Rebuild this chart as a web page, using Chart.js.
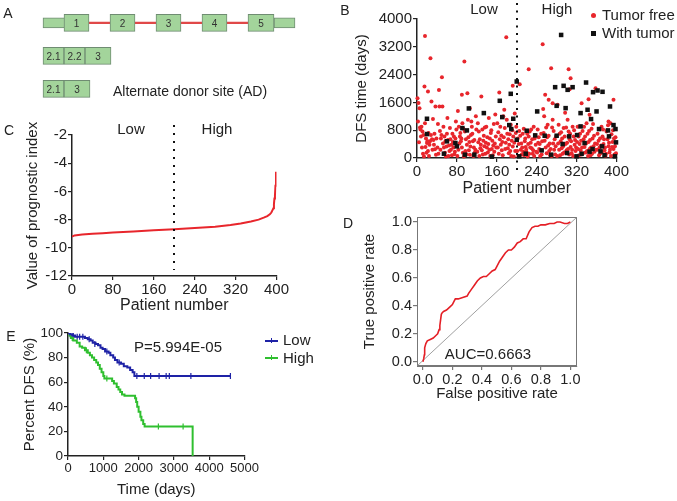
<!DOCTYPE html>
<html lang="en">
<head>
<meta charset="UTF-8">
<title>Prognostic index panels</title>
<script src="https://cdn.jsdelivr.net/npm/chart.js"></script>
<style>
  body { margin: 0; background: #fff; font-family: 'Liberation Sans', Arial, sans-serif; color: #222; }
  #fig { position: relative; width: 677px; height: 501px; overflow: hidden; }
  #fig canvas { position: absolute; }
  .lbl { position: absolute; white-space: nowrap; transform: translate(-50%, -50%); font-size: 15px; line-height: 18px; }
  .lft { transform: translate(0, -50%); }
  .panel { font-size: 14px; }
  .mark { position: absolute; }
</style>
</head>
<body>
<div id="fig">
  <canvas id="chartA" width="300" height="110" style="left:0;top:0"></canvas>
  <canvas id="chartB" width="300" height="200" style="left:330px;top:0"></canvas>
  <canvas id="chartC" width="290" height="206" style="left:0;top:110px"></canvas>
  <canvas id="chartD" width="245" height="210" style="left:340px;top:195px"></canvas>
  <canvas id="chartE" width="260" height="180" style="left:0;top:320px"></canvas>

  <div class="lbl panel" style="left:8px;top:13px">A</div>
  <div class="lbl lft" style="left:113px;top:91px;font-size:14px">Alternate donor site (AD)</div>

  <div class="lbl panel" style="left:345px;top:10px">B</div>
  <div class="lbl" style="left:484px;top:9px">Low</div>
  <div class="lbl" style="left:557px;top:9px">High</div>
  <div class="mark" style="left:591px;top:13px;width:5px;height:5px;border-radius:50%;background:#e8262c"></div>
  <div class="lbl lft" style="left:602px;top:15px">Tumor free</div>
  <div class="mark" style="left:591px;top:31px;width:5px;height:5px;background:#111"></div>
  <div class="lbl lft" style="left:602px;top:33px">With tumor</div>

  <div class="lbl panel" style="left:9px;top:130px">C</div>
  <div class="lbl" style="left:131px;top:129px">Low</div>
  <div class="lbl" style="left:217px;top:129px">High</div>

  <div class="lbl panel" style="left:348px;top:223px">D</div>
  <div class="lbl" style="left:488px;top:354px">AUC=0.6663</div>

  <div class="lbl panel" style="left:11px;top:336px">E</div>
  <div class="lbl" style="left:178px;top:347px">P=5.994E-05</div>
  <div class="mark" style="left:265px;top:340px;width:13px;height:2px;background:#1e22a6"></div>
  <div class="mark" style="left:271px;top:338px;width:1px;height:5px;background:#1e22a6"></div>
  <div class="lbl lft" style="left:283px;top:340px">Low</div>
  <div class="mark" style="left:265px;top:357px;width:13px;height:2px;background:#2fbf2f"></div>
  <div class="mark" style="left:271px;top:355px;width:1px;height:5px;background:#2fbf2f"></div>
  <div class="lbl lft" style="left:283px;top:358px">High</div>
</div>

<script>
  // ---- A: transcript schematic (spans along the gene, diagram units) ----
  const rows = ['full', 'skip', 'donor'];
  const intronSpan = [65, 274];
  const utrSpans = [[43, 65], [274, 295]];
  const exonSpans = [[64, 89], [110, 135], [156, 181], [202, 227], [248, 274]];
  const exonNames = ['1', '2', '3', '4', '5'];
  const skipSpans = [[43, 64], [64, 85], [85, 111]];
  const skipNames = ['2.1', '2.2', '3'];
  const donorSpans = [[43, 64], [64, 90]];
  const donorNames = ['2.1', '3'];

  // ---- B: DFS time per patient, [patient number, days] ----
  const tumorFree = [
    [1,1720],[3,1580],[5,1435],[2,1050],[6,880],[8,620],[4,450],[10,300],[12,120],[14,40],[7,820],[9,900],[16,1000],[18,560],[20,430],[22,200],[24,60],[26,480],[28,660],[30,540],[32,1120],[34,380],[36,250],[38,90],[16,3512],[27,2871],[15,2060],[22,1915],[29,1627],[37,1480],[11,760],[13,660],[17,320],[19,150],[21,480],[23,720],[25,380],[31,240],[33,520],[35,700],[39,560],
    [44,1960],[50,2325],[45,1480],[51,1480],[42,980],[46,780],[48,560],[52,420],[54,300],[56,150],[58,40],[60,700],[62,520],[64,360],[66,860],[68,240],[70,80],[72,460],[74,620],[76,180],[78,1050],[41,300],[43,120],[47,240],[49,660],[53,900],[55,620],[57,480],[59,330],[61,1150],[63,60],[65,200],[67,540],[69,380],[71,700],[73,300],[75,110],[77,560],[79,820],
    [90,1820],[95,2775],[101,1866],[106,1435],[82,1350],[84,900],[86,620],[88,480],[90,300],[92,150],[94,40],[96,760],[98,540],[100,380],[102,1100],[104,220],[106,90],[108,660],[110,900],[112,480],[114,300],[116,160],[118,1200],[81,60],[83,240],[85,420],[87,720],[89,560],[91,1000],[93,840],[97,200],[99,110],[103,600],[105,460],[107,330],[109,1050],[111,700],[113,60],[115,520],[117,240],[119,820],
    [129,1770],[122,1000],[124,760],[126,540],[128,380],[130,220],[132,100],[134,640],[136,880],[138,440],[140,300],[142,160],[144,1150],[146,560],[148,720],[150,260],[152,80],[154,980],[156,420],[158,620],[121,180],[123,450],[125,60],[127,280],[131,820],[133,500],[135,340],[137,120],[139,900],[141,600],[143,400],[145,240],[147,60],[149,800],[151,500],[153,360],[155,180],[157,1250],[159,300],
    [165,1885],[175,1388],[179,3474],[192,2077],[161,1000],[163,740],[166,540],[168,380],[170,220],[172,80],[174,600],[176,860],[178,440],[180,1100],[182,280],[184,140],[186,680],[188,960],[190,500],[192,330],[194,40],[196,1280],[198,720],[162,300],[164,120],[167,900],[169,650],[171,460],[173,1200],[177,260],[181,700],[183,540],[185,380],[187,200],[189,60],[191,800],[193,620],[195,440],[197,200],[199,900],
    [206,2125],[224,2555],[202,560],[204,400],[208,240],[210,100],[212,700],[214,840],[216,480],[218,320],[220,160],[222,40],[224,620],[226,760],[228,440],[230,280],[232,120],[234,900],[236,560],[238,380],[201,200],[203,60],[205,780],[207,640],[209,420],[211,300],[213,180],[215,80],[217,560],[219,240],[221,700],[223,400],[225,120],[227,300],[229,820],[231,540],[233,220],[235,60],[237,660],[239,180],
    [252,3273],[257,1818],[253,1407],[264,1675],[269,2584],[272,1579],[242,820],[244,600],[246,400],[248,220],[250,100],[254,720],[256,500],[258,300],[260,140],[262,960],[264,640],[266,420],[268,260],[270,60],[272,1100],[274,780],[276,540],[278,340],[241,160],[243,440],[245,260],[247,60],[249,700],[251,480],[255,1200],[259,880],[261,600],[263,360],[265,200],[267,80],[271,880],[273,420],[275,240],[277,100],[279,620],
    [282,1531],[304,2555],[308,2297],[306,1981],[284,960],[286,700],[288,480],[290,280],[292,120],[294,860],[296,620],[298,400],[300,220],[302,1100],[304,760],[306,540],[308,320],[310,140],[312,900],[314,620],[316,380],[318,200],[281,60],[283,420],[285,240],[287,80],[289,740],[291,560],[293,340],[295,160],[297,1300],[299,880],[301,440],[303,260],[305,100],[307,700],[309,480],[311,240],[313,60],[315,800],[317,520],[319,300],
    [330,1579],[344,1694],[346,1244],[358,2010],[322,900],[324,620],[326,400],[328,220],[330,100],[332,780],[334,540],[336,320],[338,160],[340,1000],[342,700],[344,460],[346,260],[348,80],[350,840],[352,560],[354,340],[356,180],[321,460],[323,260],[325,80],[327,700],[329,500],[331,300],[333,140],[335,900],[337,620],[339,420],[341,200],[343,60],[345,780],[347,520],[349,300],[351,120],[353,980],[355,640],[357,420],[359,240],
    [394,1675],[384,1053],[381,794],[362,700],[364,500],[366,300],[368,140],[370,900],[372,620],[374,400],[376,220],[378,60],[380,760],[382,540],[384,340],[386,160],[388,1000],[390,680],[392,460],[394,260],[396,100],[398,600],[361,400],[363,240],[365,80],[367,560],[369,360],[371,180],[373,820],[375,540],[377,300],[379,120],[383,940],[385,440],[387,240],[389,60],[391,320],[393,800],[395,560],[397,340],[399,140]
  ];
  const withTumor = [
    [289,3541],[339,2172],[277,2038],[294,2077],[312,2038],[302,1962],[353,1895],[372,1905],[362,1943],[166,1646],[188,1847],[200,2201],[241,1340],[298,1435],[280,1502],[360,1340],[342,1388],[328,1292],[387,1483],[328,909],[349,1120],[171,1177],[193,1129],[185,947],[189,833],[104,1426],[134,1292],[20,1129],[20,689],[91,861],[100,794],[220,785],[237,650],[256,641],[280,641],[305,622],[321,660],[336,431],[365,833],[383,794],[394,947],[398,833],[385,622],[399,450],[371,335],[352,258],[368,191],[346,182],[292,402],[301,144],[269,96],[205,48],[218,124],[115,96],[96,96],[54,124],[77,431],[80,335],[200,526],[320,48],[397,48],[60,480],[150,40],[250,220],[330,120],[376,80]
  ];
  const patientTicks = [0, 80, 160, 240, 320, 400];
  const splitPatient = 200;

  // ---- C: sorted prognostic index ----
  const piPatient = [0, 5, 20, 40, 60, 80, 120, 160, 200, 240, 280, 310, 330, 350, 365, 375, 382, 387, 390, 392, 394, 395, 396, 397, 398, 399];
  const piValue = [-9.2, -9.12, -9.06, -9.0, -8.96, -8.92, -8.84, -8.76, -8.68, -8.6, -8.5, -8.38, -8.28, -8.14, -8.0, -7.86, -7.75, -7.62, -7.5, -7.35, -7.2, -6.9, -6.5, -6.3, -5.6, -4.6];

  // ---- D: ROC curve ----
  const fpr = [0, 0.005, 0.01, 0.012, 0.02, 0.03, 0.05, 0.07, 0.09, 0.1, 0.11, 0.115, 0.12, 0.125, 0.13, 0.14, 0.16, 0.18, 0.2, 0.21, 0.22, 0.24, 0.27, 0.3, 0.31, 0.33, 0.35, 0.37, 0.39, 0.41, 0.43, 0.45, 0.47, 0.49, 0.5, 0.52, 0.54, 0.56, 0.58, 0.6, 0.62, 0.64, 0.66, 0.68, 0.7, 0.72, 0.74, 0.76, 0.78, 0.8, 0.83, 0.86, 0.89, 0.91, 0.93, 0.96, 0.98, 1.0];
  const tpr = [0, 0.02, 0.05, 0.1, 0.13, 0.15, 0.16, 0.17, 0.19, 0.2, 0.23, 0.26, 0.3, 0.34, 0.35, 0.36, 0.37, 0.39, 0.41, 0.43, 0.45, 0.45, 0.46, 0.47, 0.49, 0.52, 0.55, 0.58, 0.6, 0.61, 0.61, 0.63, 0.65, 0.66, 0.68, 0.72, 0.75, 0.78, 0.8, 0.8, 0.82, 0.85, 0.86, 0.88, 0.88, 0.93, 0.96, 0.97, 0.97, 0.98, 0.98, 0.99, 0.99, 1.0, 1.0, 0.99, 0.99, 1.0];
  const rateTicks = [0, 0.2, 0.4, 0.6, 0.8, 1.0];
  const rocX = [-0.04, 1.045];
  const rocY = [-0.03, 1.036];

  // ---- E: Kaplan-Meier DFS ----
  const lowDays = [0, 50, 120, 200, 480, 560, 640, 700, 780, 850, 920, 980, 1050, 1150, 1200, 1280, 1330, 1400, 1500, 1580, 1680, 1760, 1830, 1880, 4600];
  const lowPct = [100, 99, 98, 97, 96, 95, 94, 92, 91, 90, 88, 87, 85, 84, 82, 80, 78, 76, 75, 73, 72, 70, 68, 65, 65];
  const highDays = [0, 40, 80, 150, 250, 330, 400, 480, 560, 620, 680, 740, 800, 850, 900, 950, 1000, 1030, 1250, 1300, 1380, 1430, 1480, 1530, 1600, 1900, 1930, 1960, 2000, 2050, 2080, 2130, 2170, 3530, 3530];
  const highPct = [100, 98, 96, 94, 92, 89, 88, 86, 84, 82, 80, 78, 76, 74, 71, 68, 65, 63, 61, 59, 56, 54, 52, 50, 49, 47, 44, 40, 36, 32, 29, 26, 24, 24, 0];
  const lowCensorDays = [60, 150, 260, 330, 420, 600, 760, 1100, 1450, 1950, 2160, 2340, 2580, 2780, 2870, 3480, 4600];
  const lowCensorPct = [99, 98, 97, 97, 97, 95, 91, 85, 76, 65, 65, 65, 65, 65, 65, 65, 65];
  const highCensorDays = [120, 520, 1100, 2560, 3260];
  const highCensorPct = [96, 86, 63, 24, 24];

  Chart.defaults.font.family = "'Liberation Sans', Arial, sans-serif";
  Chart.defaults.color = '#222';
  Chart.defaults.animation = false;
  Chart.defaults.responsive = false;
  Chart.defaults.plugins.legend.display = false;
  Chart.defaults.plugins.tooltip.enabled = false;

  const pts = (xs, ys) => xs.map((x, i) => ({ x: x, y: ys[i] }));
  const pairs = list => list.map(p => ({ x: p[0], y: p[1] }));

  function axis(o) {
    return {
      type: 'linear', min: o.min, max: o.max,
      ticks: {
        stepSize: o.step, font: { size: o.tick || 15 }, padding: 1, color: '#222', autoSkip: false, maxRotation: 0,
        callback: o.fmt || (v => String(v))
      },
      grid: { drawOnChartArea: false, drawTicks: true, tickLength: 4, color: o.color || '#222', lineWidth: 1.2 },
      border: { color: o.color || '#222', width: o.bw || 1.5 },
      title: { display: true, text: o.title, font: { size: o.titleSize || 15 }, padding: o.pad, color: '#222' },
      afterBuildTicks: o.ticksAt ? s => { s.ticks = o.ticksAt.map(v => ({ value: v })); } : undefined,
      afterFit: s => { if (s.isHorizontal()) s.height = o.size; else s.width = o.size; }
    };
  }

  function divider(value, above, below, gap) {
    return {
      id: 'divider',
      afterDatasetsDraw(chart) {
        const { ctx, chartArea: a, scales: { x } } = chart;
        const px = Math.round(x.getPixelForValue(value));
        ctx.save();
        ctx.strokeStyle = '#111';
        ctx.lineWidth = 2;
        ctx.setLineDash([2, gap]);
        ctx.beginPath();
        ctx.moveTo(px, a.top - above);
        ctx.lineTo(px, a.bottom + below);
        ctx.stroke();
        ctx.restore();
      }
    };
  }

  // A
  const boxLabels = {
    id: 'boxLabels',
    afterDatasetsDraw(chart) {
      const ctx = chart.ctx;
      const names = exonNames.concat(skipNames, donorNames);
      ctx.save();
      ctx.font = "10px 'Liberation Sans', Arial, sans-serif";
      ctx.fillStyle = '#333';
      ctx.textAlign = 'center';
      ctx.textBaseline = 'middle';
      chart.getDatasetMeta(0).data.forEach((bar, i) => {
        ctx.fillText(names[i], (bar.x + bar.base) / 2, bar.y + 1);
      });
      ctx.restore();
    }
  };
  const boxStyle = { backgroundColor: '#a3d49b', borderColor: '#6f8c72', borderWidth: 1, borderSkipped: false, grouped: false };
  new Chart(document.getElementById('chartA'), {
    type: 'bar',
    data: {
      datasets: [
        Object.assign({
          data: exonSpans.map(s => ({ x: s, y: 'full' }))
            .concat(skipSpans.map(s => ({ x: s, y: 'skip' })), donorSpans.map(s => ({ x: s, y: 'donor' }))),
          barThickness: 17
        }, boxStyle),
        Object.assign({ data: utrSpans.map(s => ({ x: s, y: 'full' })), barThickness: 10 }, boxStyle),
        { data: [{ x: intronSpan, y: 'full' }], barThickness: 1.5, backgroundColor: '#e04848', borderWidth: 0, grouped: false }
      ]
    },
    options: {
      indexAxis: 'y',
      layout: { padding: { top: 6.4, bottom: 4.6, left: 0, right: 0 } },
      scales: {
        x: { type: 'linear', min: 0, max: 300, display: false },
        y: { type: 'category', labels: rows, display: false }
      }
    },
    plugins: [boxLabels]
  });

  // B
  new Chart(document.getElementById('chartB'), {
    type: 'scatter',
    data: {
      datasets: [
        { data: pairs(withTumor), pointStyle: 'rect', pointRadius: 3.2, backgroundColor: '#111', borderWidth: 0, clip: false },
        { data: pairs(tumorFree), pointRadius: 2, backgroundColor: '#e8262c', borderWidth: 0, clip: false }
      ]
    },
    options: {
      layout: { padding: { top: 19, right: 5, left: 0, bottom: 0 } },
      scales: {
        x: axis({ min: 0, max: 400, ticksAt: patientTicks, size: 42, title: 'Patient number', titleSize: 16, pad: { top: 0, bottom: 1.4 } }),
        y: axis({ min: 0, max: 4000, step: 800, size: 87, title: 'DFS time (days)', pad: { top: 23, bottom: 0 } })
      }
    },
    plugins: [divider(splitPatient, 16, 15, 5.5)]
  });

  // C
  new Chart(document.getElementById('chartC'), {
    type: 'line',
    data: {
      datasets: [{ data: pts(piPatient, piValue), borderColor: '#e8262c', borderWidth: 2, pointRadius: 0, tension: 0 }]
    },
    options: {
      layout: { padding: { top: 25, right: 10, left: 0, bottom: 0 } },
      scales: {
        x: axis({ min: 0, max: 400, ticksAt: patientTicks, size: 40, title: 'Patient number', titleSize: 16, pad: { top: 0, bottom: 0.5 } }),
        y: axis({ min: -12, max: -2, step: 2, size: 72, title: 'Value of prognostic index', pad: { top: 24, bottom: 0 } })
      }
    },
    plugins: [divider(splitPatient, 10, -6, 6)]
  });

  // D
  const frame = {
    id: 'frame',
    beforeDatasetsDraw(chart) {
      const { ctx, chartArea: a } = chart;
      ctx.save();
      ctx.strokeStyle = '#777';
      ctx.lineWidth = 1;
      ctx.strokeRect(a.left + 0.5, a.top + 0.5, a.width - 1, a.height - 1);
      ctx.restore();
    }
  };
  const oneDecimal = v => v.toFixed(1);
  new Chart(document.getElementById('chartD'), {
    type: 'line',
    data: {
      datasets: [
        { data: pts(fpr, tpr), borderColor: '#e41f26', borderWidth: 1.6, pointRadius: 0, tension: 0 },
        { data: pts(rocX, rocY), borderColor: '#888', borderWidth: 0.8, pointRadius: 0 }
      ]
    },
    options: {
      layout: { padding: { top: 22, right: 8, left: 0, bottom: 0 } },
      scales: {
        x: axis({ min: rocX[0], max: rocX[1], ticksAt: rateTicks, fmt: oneDecimal, size: 39, tick: 14.5, color: '#777', bw: 1, title: 'False positive rate', pad: { top: 0, bottom: 2.4 } }),
        y: axis({ min: rocY[0], max: rocY[1], ticksAt: rateTicks, fmt: oneDecimal, size: 77, tick: 14.5, color: '#777', bw: 1, title: 'True positive rate', pad: { top: 21, bottom: 0 } })
      }
    },
    plugins: [frame]
  });

  // E
  new Chart(document.getElementById('chartE'), {
    type: 'line',
    data: {
      datasets: [
        { data: pts(lowDays, lowPct), borderColor: '#1e22a6', borderWidth: 2, pointRadius: 0, stepped: true },
        { data: pts(highDays, highPct), borderColor: '#2fbf2f', borderWidth: 2, pointRadius: 0, stepped: true },
        { data: pts(lowCensorDays, lowCensorPct), showLine: false, pointStyle: 'line', rotation: 90, pointRadius: 3, borderColor: '#1e22a6', borderWidth: 1.2 },
        { data: pts(highCensorDays, highCensorPct), showLine: false, pointStyle: 'line', rotation: 90, pointRadius: 3, borderColor: '#2fbf2f', borderWidth: 1.2 }
      ]
    },
    options: {
      layout: { padding: { top: 13, right: 3, left: 0, bottom: 0 } },
      scales: {
        x: axis({ min: 0, max: 5000, step: 1000, size: 44, tick: 13, title: 'Time (days)', pad: { top: 0, bottom: 1.4 } }),
        y: axis({ min: 0, max: 100, step: 20, size: 68, tick: 13.5, title: 'Percent DFS (%)', pad: { top: 21, bottom: 0 } })
      }
    }
  });
</script>
</body>
</html>
